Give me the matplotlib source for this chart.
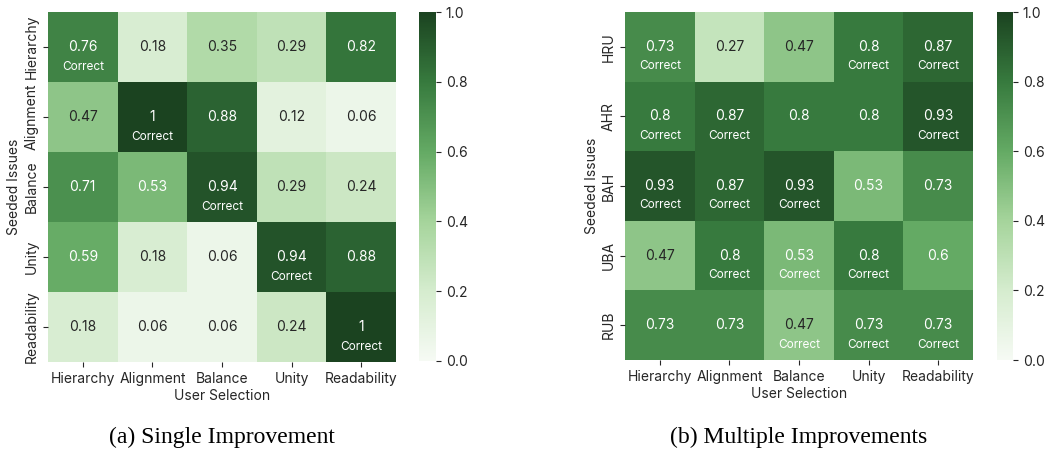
import numpy as np
import matplotlib
matplotlib.use("Agg")
import matplotlib.pyplot as plt
from matplotlib.colors import LinearSegmentedColormap
import seaborn as sns

# Etiquetas
selecciones = ["Hierarchy", "Alignment", "Balance", "Unity", "Readability"]
issues_single = ["Hierarchy", "Alignment", "Balance", "Unity", "Readability"]
issues_multi = ["HRU", "AHR", "BAH", "UBA", "RUB"]

# Valores (a) Single Improvement
valores_single = [
    [0.76, 0.18, 0.35, 0.29, 0.82],
    [0.47, 1, 0.88, 0.12, 0.06],
    [0.71, 0.53, 0.94, 0.29, 0.24],
    [0.59, 0.18, 0.06, 0.94, 0.88],
    [0.18, 0.06, 0.06, 0.24, 1],
]
correcto_single = [
    [1, 0, 0, 0, 0],
    [0, 1, 0, 0, 0],
    [0, 0, 1, 0, 0],
    [0, 0, 0, 1, 0],
    [0, 0, 0, 0, 1],
]

# Valores (b) Multiple Improvements
valores_multi = [
    [0.73, 0.27, 0.47, 0.8, 0.87],
    [0.8, 0.87, 0.8, 0.8, 0.93],
    [0.93, 0.87, 0.93, 0.53, 0.73],
    [0.47, 0.8, 0.53, 0.8, 0.6],
    [0.73, 0.73, 0.47, 0.73, 0.73],
]
correcto_multi = [
    [1, 0, 0, 1, 1],
    [1, 1, 0, 0, 1],
    [1, 1, 1, 0, 0],
    [0, 1, 1, 1, 0],
    [0, 0, 1, 1, 1],
]

# Verdes algo apagados, como en la figura original
verdes = LinearSegmentedColormap.from_list("verdes", [
    (0.0, "#f6faf4"),
    (0.2, "#d5ecce"),
    (0.4, "#a5d49b"),
    (0.6, "#64aa64"),
    (0.8, "#377a3e"),
    (1.0, "#1b4320"),
])

plt.rcParams["font.family"] = ["Inter", "DejaVu Sans"]
plt.rcParams["font.size"] = 10
plt.rcParams["text.color"] = "#262626"
plt.rcParams["axes.labelcolor"] = "#262626"
plt.rcParams["xtick.color"] = "#262626"
plt.rcParams["ytick.color"] = "#262626"

fig = plt.figure(figsize=(10.54, 4.54), dpi=100)
W, H = 1054, 454


def caja(x0, y0, x1, y1):
    return [x0 / W, 1 - y1 / H, (x1 - x0) / W, (y1 - y0) / H]


def dibujar(ax, cax, valores, correcto, filas, titulo):
    sns.heatmap(np.array(valores, dtype=float), ax=ax, cbar_ax=cax, cmap=verdes,
                vmin=0, vmax=1, annot=True, fmt="g",
                annot_kws={"fontsize": 10},
                xticklabels=selecciones, yticklabels=filas)
    for i in range(len(filas)):
        for j in range(len(selecciones)):
            if correcto[i][j]:
                ax.text(j + 0.5, i + 0.78, "Correct", ha="center", va="center",
                        color="white", fontsize=8.5)
    ax.set_yticklabels(filas, rotation=90, va="center", fontsize=10)
    ax.set_xticklabels(selecciones, rotation=0, fontsize=10)
    ax.set_xlabel("User Selection", fontsize=10, labelpad=2)
    ax.set_ylabel("Seeded Issues", fontsize=10, labelpad=2)
    cax.tick_params(labelsize=10)
    cax.set_yticks([0, 0.2, 0.4, 0.6, 0.8, 1.0])
    cax.set_yticklabels(["0.0", "0.2", "0.4", "0.6", "0.8", "1.0"])
    cx = (ax.get_position().x0 + ax.get_position().x1) / 2
    fig.text(cx, 1 - 437 / H, titulo, ha="center", va="center", color="black",
             fontsize=17, family=["Liberation Serif", "DejaVu Serif"])


ax1 = fig.add_axes(caja(48, 12, 396, 362))
cax1 = fig.add_axes(caja(419, 12, 436, 361))
dibujar(ax1, cax1, valores_single, correcto_single, issues_single,
        "(a) Single Improvement")

ax2 = fig.add_axes(caja(625, 12, 973, 360))
cax2 = fig.add_axes(caja(997, 12, 1013, 360))
dibujar(ax2, cax2, valores_multi, correcto_multi, issues_multi,
        "(b) Multiple Improvements")

fig.savefig("out.png", dpi=100)
